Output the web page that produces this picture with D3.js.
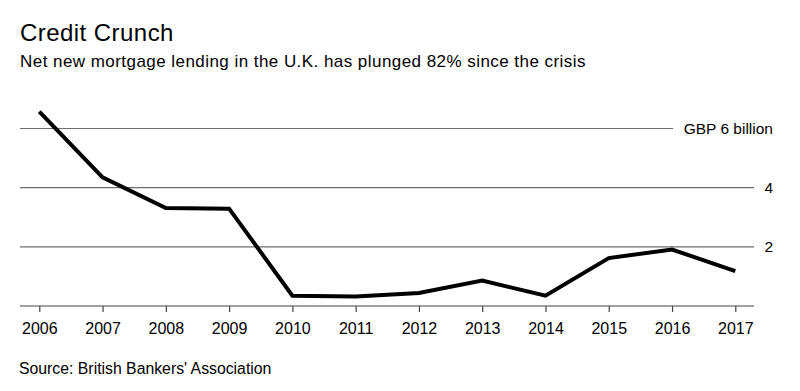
<!DOCTYPE html>
<html>
<head>
<meta charset="utf-8">
<script src="https://cdn.jsdelivr.net/npm/d3@7"></script>
<style>
  body { margin: 0; background: #fff; }
  svg text { font-family: "Liberation Sans", Arial, sans-serif; fill: #000; }
</style>
</head>
<body>
<div id="chart"></div>
<script>
const years = [2006, 2007, 2008, 2009, 2010, 2011, 2012, 2013, 2014, 2015, 2016, 2017];
const lending = [6.57, 4.35, 3.31, 3.29, 0.35, 0.32, 0.44, 0.86, 0.35, 1.62, 1.91, 1.18];
const gridValues = [2, 4, 6];
const gridLabels = ["2", "4", "GBP 6 billion"];

const width = 800;
const height = 391;
const plotLeft = 20;
const plotRight = 754;

const svg = d3
  .select("#chart")
  .append("svg")
  .attr("width", width)
  .attr("height", height);

const xScale = d3.scaleLinear().domain([2006, 2017]).range([39.3, 735.3]);
const yScale = d3.scaleLinear().domain([0, 6]).range([306, 128.5]);

// titles
svg.append("text")
  .attr("x", 20)
  .attr("y", 41)
  .style("font-size", "24px")
  .style("letter-spacing", "0.45px")
  .text("Credit Crunch");

svg.append("text")
  .attr("x", 20)
  .attr("y", 67)
  .style("font-size", "17px")
  .style("letter-spacing", "0.45px")
  .text("Net new mortgage lending in the U.K. has plunged 82% since the crisis");

// grid lines
const grid = svg.append("g").attr("class", "grid");
grid.selectAll("line")
  .data(gridValues)
  .enter()
  .append("line")
  .attr("x1", plotLeft)
  .attr("x2", function(d) { return d === 6 ? 673 : plotRight; })
  .attr("y1", function(d) { return yScale(d); })
  .attr("y2", function(d) { return yScale(d); })
  .attr("stroke", "#6e6e6e")
  .attr("stroke-width", 1.2);

grid.selectAll("text")
  .data(gridValues)
  .enter()
  .append("text")
  .attr("x", 773)
  .attr("y", function(d) { return yScale(d); })
  .attr("dy", "0.35em")
  .attr("text-anchor", "end")
  .style("font-size", "15.5px")
  .text(function(d, i) { return gridLabels[i]; });

// x axis
const xAxis = d3.axisBottom(xScale)
  .tickValues(years)
  .tickFormat(d3.format("d"))
  .tickSize(6)
  .tickSizeOuter(0);

const xAxisGroup = svg.append("g")
  .attr("class", "x axis")
  .attr("transform", "translate(0," + yScale(0) + ")")
  .call(xAxis);

xAxisGroup.select(".domain").remove();
xAxisGroup.selectAll(".tick line").attr("stroke", "#444").attr("stroke-width", 1.2);
xAxisGroup.selectAll(".tick text")
  .attr("y", 17)
  .attr("dy", "0.71em")
  .style("font-size", "16px")
  .style("font-family", "'Liberation Sans', Arial, sans-serif")
  .attr("fill", "#000");

svg.append("line")
  .attr("x1", plotLeft)
  .attr("x2", plotRight)
  .attr("y1", yScale(0))
  .attr("y2", yScale(0))
  .attr("stroke", "#444")
  .attr("stroke-width", 1.2);

// data line
const lineGenerator = d3.line()
  .x(function(d, i) { return xScale(years[i]); })
  .y(function(d) { return yScale(d); });

svg.append("path")
  .attr("d", lineGenerator(lending))
  .attr("fill", "none")
  .attr("stroke", "#000")
  .attr("stroke-width", 4);

svg.append("text")
  .attr("x", 19)
  .attr("y", 374)
  .style("font-size", "15.8px")
  .text("Source: British Bankers' Association");
</script>
</body>
</html>
